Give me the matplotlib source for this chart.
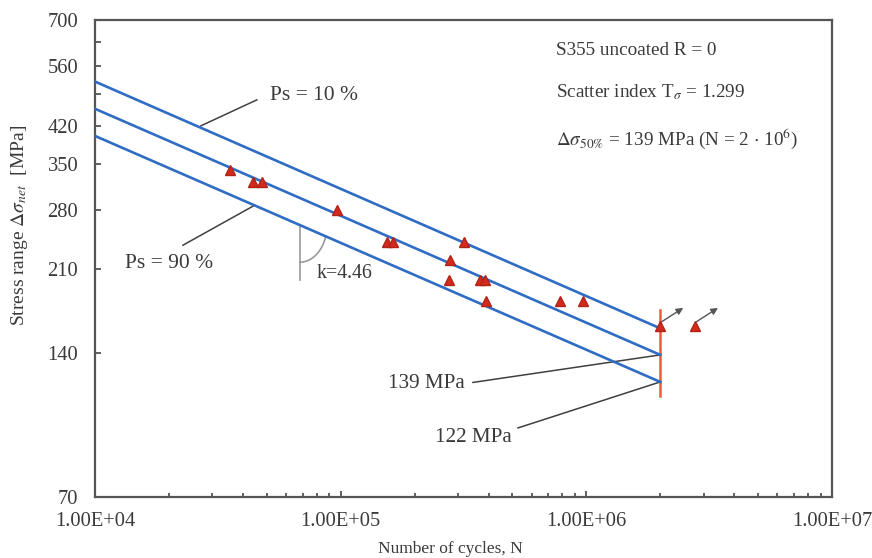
import numpy as np
import matplotlib
matplotlib.use("Agg")
import matplotlib.pyplot as plt

plt.rcParams['font.family'] = ['Liberation Serif', 'DejaVu Serif']
plt.rcParams['mathtext.fontset'] = 'stix'

# test results (cycles, stress range in MPa)
N_test = [35400, 44000, 47800, 96600, 154000, 163000, 318000, 279000,
          276000, 369000, 387000, 390000, 781000, 969000, 2000000, 2770000]
S_test = [340, 320, 320, 280, 240, 240, 240, 220,
          200, 200, 200, 180, 180, 180, 160, 160]

# runouts (arrows)
runout_N = [2000000, 2770000]
runout_S = [160, 160]

# scatter band lines, Ps = 10 %, 50 %, 90 %
N_line = [1e4, 2e6]
S_p10 = [520, 158]
S_p50 = [456, 139]
S_p90 = [400, 122]

y_ticks = [70, 140, 210, 280, 350, 420, 490, 560, 630, 700]
y_labels = ['70', '140', '210', '280', '350', '420', '', '560', '', '700']
x_ticks = [1e4, 1e5, 1e6, 1e7]
x_labels = ['1.00E+04', '1.00E+05', '1.00E+06', '1.00E+07']

txt = '#3a3a3a'
blue = '#2f6cc4'
leadc = '#404040'

fig = plt.figure(figsize=(8.72, 5.58), dpi=100)
ax = fig.add_axes([0.1089, 0.1093, 0.8452, 0.8549])
ax.set_xscale('log')
ax.set_yscale('log')
ax.set_xlim(1e4, 1e7)
ax.set_ylim(70, 700)

for s in [S_p10, S_p50, S_p90]:
    ax.plot(N_line, s, color=blue, lw=1.9, zorder=3)

# 2e6 reference line
ax.plot([2e6, 2e6], [114, 173], color='#f05a3c', lw=1.8, zorder=2)

ax.plot(N_test, S_test, '^', color='#d42a1e', mec='#b02418', ms=6.5, zorder=5)

# runout arrows
for n, s in zip(runout_N, runout_S):
    ax.annotate('', xy=(n * 1.24, s * 1.09), xytext=(n * 1.015, s * 1.02),
                arrowprops=dict(arrowstyle='-|>', color='#555555', lw=1.0,
                                mutation_scale=10, shrinkA=0, shrinkB=0))

# labels with leader lines
ax.plot([27000, 45600], [420, 476], color=leadc, lw=1.1)
ax.text(51500, 485, 'Ps = 10 %', fontsize=15.5, color=txt, va='center', ha='left')
ax.plot([22800, 44000], [236, 285], color=leadc, lw=1.1)
ax.text(30200, 216, 'Ps = 90 %', fontsize=15.5, color=txt, va='center', ha='right')
ax.plot([345700, 2e6], [121.7, 139], color=leadc, lw=1.1)
ax.text(320600, 121, '139 MPa', fontsize=15.2, color=txt, va='center', ha='right')
ax.plot([527000, 2e6], [97.7, 122], color=leadc, lw=1.1)
ax.text(498000, 93.5, '122 MPa', fontsize=15.2, color=txt, va='center', ha='right')

# slope marker
ax.plot([68300, 68300], [200, 260], color='#999999', lw=1.2)
to_ax = ax.transData + ax.transAxes.inverted()
cx, cy = to_ax.transform((68300, 260))
t = np.radians(np.linspace(-90, -18, 40))
ax.plot(cx + 0.0366 * np.cos(t), cy + 0.0776 * np.sin(t),
        color='#999999', lw=1.2, transform=ax.transAxes)
ax.text(80000, 206, 'k=4.46', fontsize=14.3, color=txt, va='center', ha='left')

# info text
ax.text(0.625, 0.937, 'S355 uncoated R = 0', transform=ax.transAxes,
        fontsize=13.8, color=txt, va='center')
ax.text(0.625, 0.849, r'Scatter index T$_\sigma$ = 1.299', transform=ax.transAxes,
        fontsize=13.8, color=txt, va='center')
ax.text(0.625, 0.751, r'$\Delta\sigma_{50\%}$ = 139 MPa (N = 2 $\cdot$ 10$^6$)',
        transform=ax.transAxes, fontsize=13.8, color=txt, va='center')

ax.set_yticks(y_ticks)
ax.set_yticklabels(y_labels)
ax.yaxis.set_minor_locator(matplotlib.ticker.NullLocator())
ax.set_xticks(x_ticks)
ax.set_xticklabels(x_labels)
ax.tick_params(axis='both', which='both', direction='in', colors='#444444',
               labelcolor=txt, labelsize=14.8, width=1.2)
ax.tick_params(axis='both', which='major', length=4)
ax.tick_params(axis='x', which='minor', length=3)
ax.tick_params(axis='x', pad=11)
ax.tick_params(axis='y', pad=12)

for sp in ax.spines.values():
    sp.set_color('#555555')
    sp.set_linewidth(1.6)

ax.set_xlabel('Number of cycles, N', fontsize=12.5, color=txt)
ax.xaxis.set_label_coords(0.482, -0.092)
ax.set_ylabel(r'Stress range $\Delta\sigma_{net}$  [MPa]', fontsize=14, color=txt)
ax.yaxis.set_label_coords(-0.088, 0.57)

fig.savefig('out.png', dpi=100)
